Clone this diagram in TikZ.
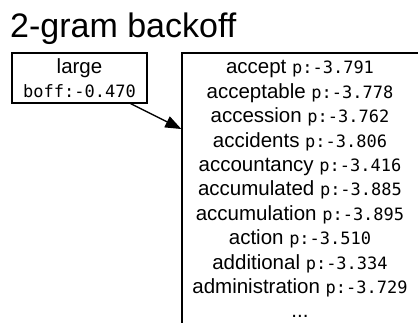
\documentclass[tikz,border=0pt]{standalone}
\usepackage{fontspec}
\setmainfont{Liberation Sans}
\newfontfamily\monof{DejaVu Sans Mono}
\usetikzlibrary{arrows.meta}
\newcommand\pval[1]{{\monof\fontsize{17}{20}\selectfont p:#1}}
\begin{document}
\begin{tikzpicture}[x=1pt,y=-1pt,
  box/.style={draw,line width=1.3pt,inner sep=0pt},
  word/.style={font=\fontsize{20.5}{24}\selectfont, anchor=base, inner sep=0pt},
  mono/.style={font=\monof\fontsize{17}{20}\selectfont, anchor=base, inner sep=0pt}]
\useasboundingbox (0,0) rectangle (418,323);
\clip (0,0) rectangle (418,323);
\fill[white] (0,0) rectangle (418,323);
\node[font=\fontsize{34}{40}\selectfont, anchor=base west, inner sep=0pt] (title) at (10,38) {2-gram backoff};
\node[box, minimum width=135pt, minimum height=50pt] (large) at (79.5,78) {};
\node[word] (lw) at (79.5,73.5) {large};
\node[mono] (lb) at (79.5,97.5) {boff:-0.470};
\node[box, minimum width=237pt, minimum height=271pt] (list) at (300.5,188.5) {};
\foreach \w/\v [count=\i] in {accept/-3.791,acceptable/-3.778,accession/-3.762,accidents/-3.806,accountancy/-3.416,accumulated/-3.885,accumulation/-3.895,action/-3.510,additional/-3.334,administration/-3.729}
  \node[word] (item\i) at (300,{74+24.4*(\i-1)}) {\w\ \pval{\v}};
\node[word] (more) at (300,318) {...};
\draw[-{Triangle[length=16pt,width=12pt]}, line width=1.3pt] (large) -- (list);
\end{tikzpicture}
\end{document}
